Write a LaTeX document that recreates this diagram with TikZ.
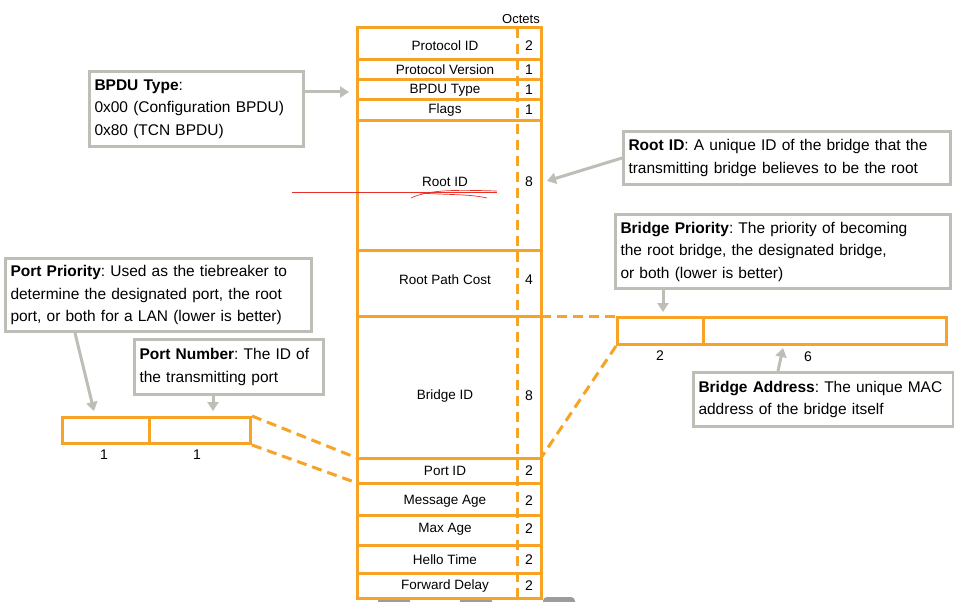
\documentclass[tikz,border=0pt]{standalone}
\usepackage{fontspec}
\setmainfont{Liberation Sans}
\usetikzlibrary{arrows.meta}
\definecolor{fieldor}{HTML}{F7A326}
\definecolor{notegr}{HTML}{BEBDB6}
\definecolor{markred}{HTML}{E8302A}
\definecolor{tabgr}{HTML}{9C9C9A}
\frenchspacing

\begin{document}
\begin{tikzpicture}[x=1pt,y=-1pt,line join=miter,
  field/.style={draw=fieldor,line width=3pt},
  fielddash/.style={draw=fieldor,line width=3pt,dash pattern=on 10pt off 6pt},
  fname/.style={font=\fontsize{13.5}{14}\selectfont,inner sep=0pt},
  fsize/.style={font=\fontsize{14}{14}\selectfont,inner sep=0pt},
  note/.style={draw=notegr,line width=3pt,fill=white,anchor=north west,align=left,
    inner xsep=5pt,inner ysep=2pt,font=\fontsize{15.5}{22.5}\selectfont},
  pointer/.style={draw=notegr,line width=3pt,-{Triangle[length=9pt,width=11pt]}}]

  \useasboundingbox[fill=white] (0,0) rectangle (954,602);

  % tabs peeking in at the bottom edge
  \fill[tabgr,rounded corners=4pt] (378,597) rectangle (410,610);
  \fill[tabgr,rounded corners=4pt] (460,597) rectangle (492,610);
  \fill[tabgr,rounded corners=4pt] (543,597) rectangle (575,610);

  % BPDU field column
  \node[anchor=south,inner sep=0pt,font=\fontsize{13}{13}\selectfont] (octets) at (521,24) {Octets};
  \draw[field] (357,28) rectangle (541,598);
  \foreach \y in {60,80,100,120,250,316,458,483,515,545,573}
    \draw[field] (357,\y) -- (541,\y);
  \draw[fielddash] (517,28) -- (517,598);

  \foreach \name/\ny/\txt/\sz in {pid/46/Protocol ID/2, pver/70/Protocol Version/1,
      ptype/90/BPDU Type/1, flags/110/Flags/1, rootid/182/Root ID/8,
      cost/280/Root Path Cost/4, bid/396/Bridge ID/8, portid/471/Port ID/2,
      msgage/501/Message Age/2, maxage/529/Max Age/2, hello/560/Hello Time/2,
      fwd/586/Forward Delay/2} {
    \node[fname] (\name) at (445,\ny) {\txt};
    \node[fsize] (\name-n) at (529,\ny) {\sz};
  }

  \coordinate (bidne) at (541,316);
  \coordinate (bidse) at (541,458);
  \coordinate (pidnw) at (357,458);
  \coordinate (pidsw) at (357,483);

  % red pen marks over Root ID
  \draw[markred,line width=0.8pt] (292,192) -- (497,192);
  \draw[markred,line width=0.7pt] (411,198) .. controls (430,189) and (460,190) .. (497,191);
  \draw[markred,line width=0.7pt] (420,193) .. controls (450,195) and (470,194) .. (487,198);

  % Bridge ID split
  \node[field,anchor=north west,minimum width=86,minimum height=27,inner sep=0pt] (bprio) at (616,316) {};
  \node[field,anchor=north west,minimum width=243,minimum height=27,inner sep=0pt] (baddr) at (702,316) {};
  \node[fsize] (bprio-n) at (660,356) {2};
  \node[fsize] (baddr-n) at (808,357) {6};
  \draw[fielddash] (bidne) -- (bprio.north west);
  \draw[fielddash] (bprio.south west) -- (bidse);

  % Port ID split
  \node[field,anchor=north west,minimum width=87,minimum height=26,inner sep=0pt] (pprio) at (61,416) {};
  \node[field,anchor=north west,minimum width=101,minimum height=26,inner sep=0pt] (pnum) at (148,416) {};
  \node[fsize] (pprio-n) at (104,455) {1};
  \node[fsize] (pnum-n) at (197,455) {1};
  \draw[fielddash] (pnum.north east) -- (pidnw);
  \draw[fielddash] (pnum.south east) -- (pidsw);

  % callouts
  \node[note,text width=204,minimum height=75] (typenote) at (88,70)
    {\textbf{BPDU Type}:\\0x00 (Configuration BPDU)\\0x80 (TCN BPDU)};
  \node[note,text width=317,minimum height=53] (rootnote) at (622,130)
    {\textbf{Root ID}: A unique ID of the bridge that the\\transmitting bridge believes to be the root};
  \node[note,text width=325,minimum height=74] (prionote) at (614,213)
    {\textbf{Bridge Priority}: The priority of becoming\\the root bridge, the designated bridge,\\or both (lower is better)};
  \node[note,text width=250,minimum height=54] (addrnote) at (692,371)
    {\textbf{Bridge Address}: The unique MAC\\address of the bridge itself};
  \node[note,text width=296,minimum height=73] (pprionote) at (4,257)
    {\textbf{Port Priority}: Used as the tiebreaker to\\determine the designated port, the root\\port, or both for a LAN (lower is better)};
  \node[note,text width=179,minimum height=55] (pnumnote) at (133,338)
    {\textbf{Port Number}: The ID of\\the transmitting port};

  \coordinate (typetip) at (349,92);
  \coordinate (roottip) at (547,181);
  \coordinate (priotip) at (663,312);
  \coordinate (addrtip) at (783,348);
  \coordinate (pprtip) at (94,411);
  \coordinate (pnumtip) at (213,411);

  \draw[pointer] (typenote.east |- typetip) -- (typetip);
  \draw[pointer] (rootnote.west) -- (roottip);
  \draw[pointer] (prionote.south -| priotip) -- (priotip);
  \draw[pointer] ([xshift=86pt]addrnote.north west) -- (addrtip);
  \draw[pointer] ([xshift=71pt]pprionote.south west) -- (pprtip);
  \draw[pointer] (pnumnote.south -| pnumtip) -- (pnumtip);

\end{tikzpicture}
\end{document}
